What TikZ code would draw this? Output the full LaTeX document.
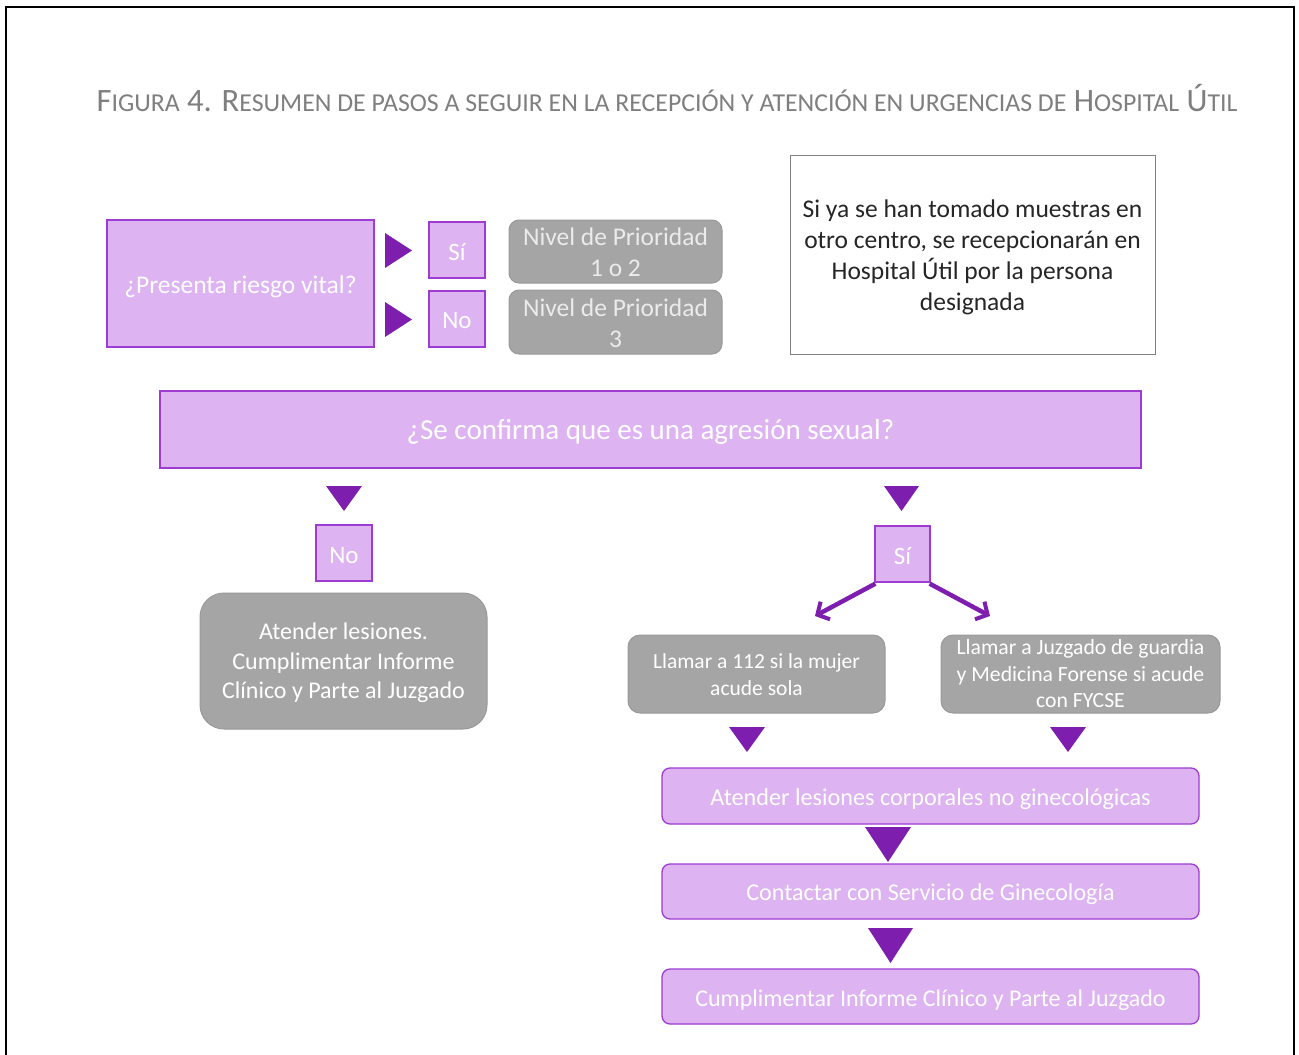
\documentclass[tikz,border=0pt]{standalone}
\usepackage{fontspec}
\setmainfont{Carlito}
\usetikzlibrary{arrows.meta}
\definecolor{plight}{HTML}{DDB3F1}
\definecolor{pborder}{HTML}{9E3CD2}
\definecolor{pdark}{HTML}{7E1EAE}
\definecolor{gfill}{HTML}{A5A5A5}
\definecolor{gborder}{HTML}{999999}
\definecolor{titlegray}{HTML}{7F7F7F}
\newcommand\fsz[2]{\fontsize{#1pt}{#2pt}\selectfont}
\newcommand\smc[1]{{\fsz{25.8}{30}#1}}
\newcommand\dn[2][3pt]{\raisebox{-#1}[\height][\depth]{#2}}
\tikzset{
  pbox/.style={draw=pborder, fill=plight, line width=1.3pt, text=white, inner sep=0pt, align=center},
  gbox/.style={draw=gborder, fill=gfill, line width=1pt, text=white, inner sep=0pt, align=center},
  tri/.style={fill=pdark},
  branch/.style={draw=pdark, line width=4.5pt, -{Straight Barb[length=9pt,width=20pt,line width=4pt]}},
}
\begin{document}
\begin{tikzpicture}[x=1pt,y=-1pt]
\useasboundingbox (0,0) rectangle (1299,1055);
\fill[white] (0,0) rectangle (1299,1055);
\draw[line width=2pt] (6,1060) -- (6,7) -- (1294,7) -- (1294,1060);

\node[text=titlegray, inner sep=0pt] (title) at (667,98)
  {\fsz{32.6}{36}F\smc{IGURA} 4. R\smc{ESUMEN DE PASOS A SEGUIR EN LA RECEPCIÓN Y ATENCIÓN EN URGENCIAS DE} H\smc{OSPITAL} Ú\smc{TIL}};

% top row
\node[pbox, minimum width=267pt, minimum height=127pt, font=\fsz{25.5}{30}] (q1) at (240.5,283.5) {\dn{¿Presenta riesgo vital?}};
\node[pbox, minimum width=56pt, minimum height=56pt, font=\fsz{25}{29}] (si1) at (457,250) {\dn[2pt]{Sí}};
\node[pbox, minimum width=56pt, minimum height=56pt, font=\fsz{25}{29}] (no1) at (457,319) {\dn[2pt]{No}};
\node[gbox, rounded corners=10pt, minimum width=213pt, minimum height=63pt, text=white!92!black, font=\fsz{25.5}{31}] (n12) at (615.5,251.5) {\dn[1pt]{Nivel de Prioridad}\\\dn[1pt]{1 o 2}};
\node[gbox, rounded corners=10pt, minimum width=213pt, minimum height=64pt, text=white!92!black, font=\fsz{25.5}{31}] (n3) at (615.5,322) {\dn[1pt]{Nivel de Prioridad}\\\dn[1pt]{3}};
\node[draw=black!50, line width=1pt, fill=white, minimum width=365pt, minimum height=199pt, align=center, text=black!85, font=\fsz{25.5}{31}] (note) at (972.5,254.5)
  {\dn[2.5pt]{Si ya se han tomado muestras en}\\\dn[2.5pt]{otro centro, se recepcionarán en}\\\dn[2.5pt]{Hospital Útil por la persona}\\\dn[2.5pt]{designada}};

\fill[tri] (385,233) -- (412,250.5) -- (385,268) -- cycle;
\fill[tri] (385,302) -- (412,319.5) -- (385,337) -- cycle;

% question 2
\node[pbox, minimum width=981pt, minimum height=77pt, font=\fsz{29}{33}] (q2) at (650.5,429.5) {\dn[2pt]{¿Se confirma que es una agresión sexual?}};

\fill[tri] (326,486) -- (362,486) -- (344,511) -- cycle;
\fill[tri] (884,486) -- (919,486) -- (901.5,511) -- cycle;

\node[pbox, minimum width=56pt, minimum height=56pt, font=\fsz{25}{29}] (no2) at (344,553) {\dn[3pt]{No}};
\node[pbox, minimum width=55pt, minimum height=56pt, font=\fsz{25}{29}] (si2) at (902.5,554) {\dn[2pt]{Sí}};

\node[gbox, rounded corners=24pt, minimum width=287pt, minimum height=136pt, font=\fsz{24}{29.5}] (atl) at (343.5,661)
  {\dn[2pt]{Atender lesiones.}\\\dn[2pt]{Cumplimentar Informe}\\\dn[2pt]{Clínico y Parte al Juzgado}};

\coordinate (aL) at (815,616);
\coordinate (aR) at (990,616);
\draw[branch] ([xshift=1pt,yshift=-1pt]si2.south west) -- (aL);
\draw[branch] ([xshift=-1pt,yshift=-1pt]si2.south east) -- (aR);

\node[gbox, rounded corners=12pt, minimum width=257pt, minimum height=78pt, font=\fsz{21.5}{27}] (l112) at (756.5,674)
  {\dn[1pt]{Llamar a 112 si la mujer}\\\dn[1pt]{acude sola}};
\node[gbox, rounded corners=12pt, minimum width=279pt, minimum height=78pt, font=\fsz{21.7}{26.5}] (ljuz) at (1080.5,674)
  {Llamar a Juzgado de guardia\\y Medicina Forense si acude\\con FYCSE};

\fill[tri] (729,727) -- (765,727) -- (747,752) -- cycle;
\fill[tri] (1050,727) -- (1086,727) -- (1068,752) -- cycle;

\node[pbox, rounded corners=8pt, minimum width=537pt, minimum height=56pt, font=\fsz{24.2}{28}] (b1) at (930.5,796) {\dn{Atender lesiones corporales no ginecológicas}};
\fill[tri] (865,827) -- (911,827) -- (888,862) -- cycle;
\node[pbox, rounded corners=8pt, minimum width=537pt, minimum height=55pt, font=\fsz{24.1}{28}] (b2) at (930.5,891.5) {\dn{Contactar con Servicio de Ginecología}};
\fill[tri] (868,928) -- (913,928) -- (890.5,963) -- cycle;
\node[pbox, rounded corners=8pt, minimum width=537pt, minimum height=55pt, font=\fsz{24}{28}] (b3) at (930.5,996.5) {\dn[4pt]{Cumplimentar Informe Clínico y Parte al Juzgado}};
\end{tikzpicture}
\end{document}
